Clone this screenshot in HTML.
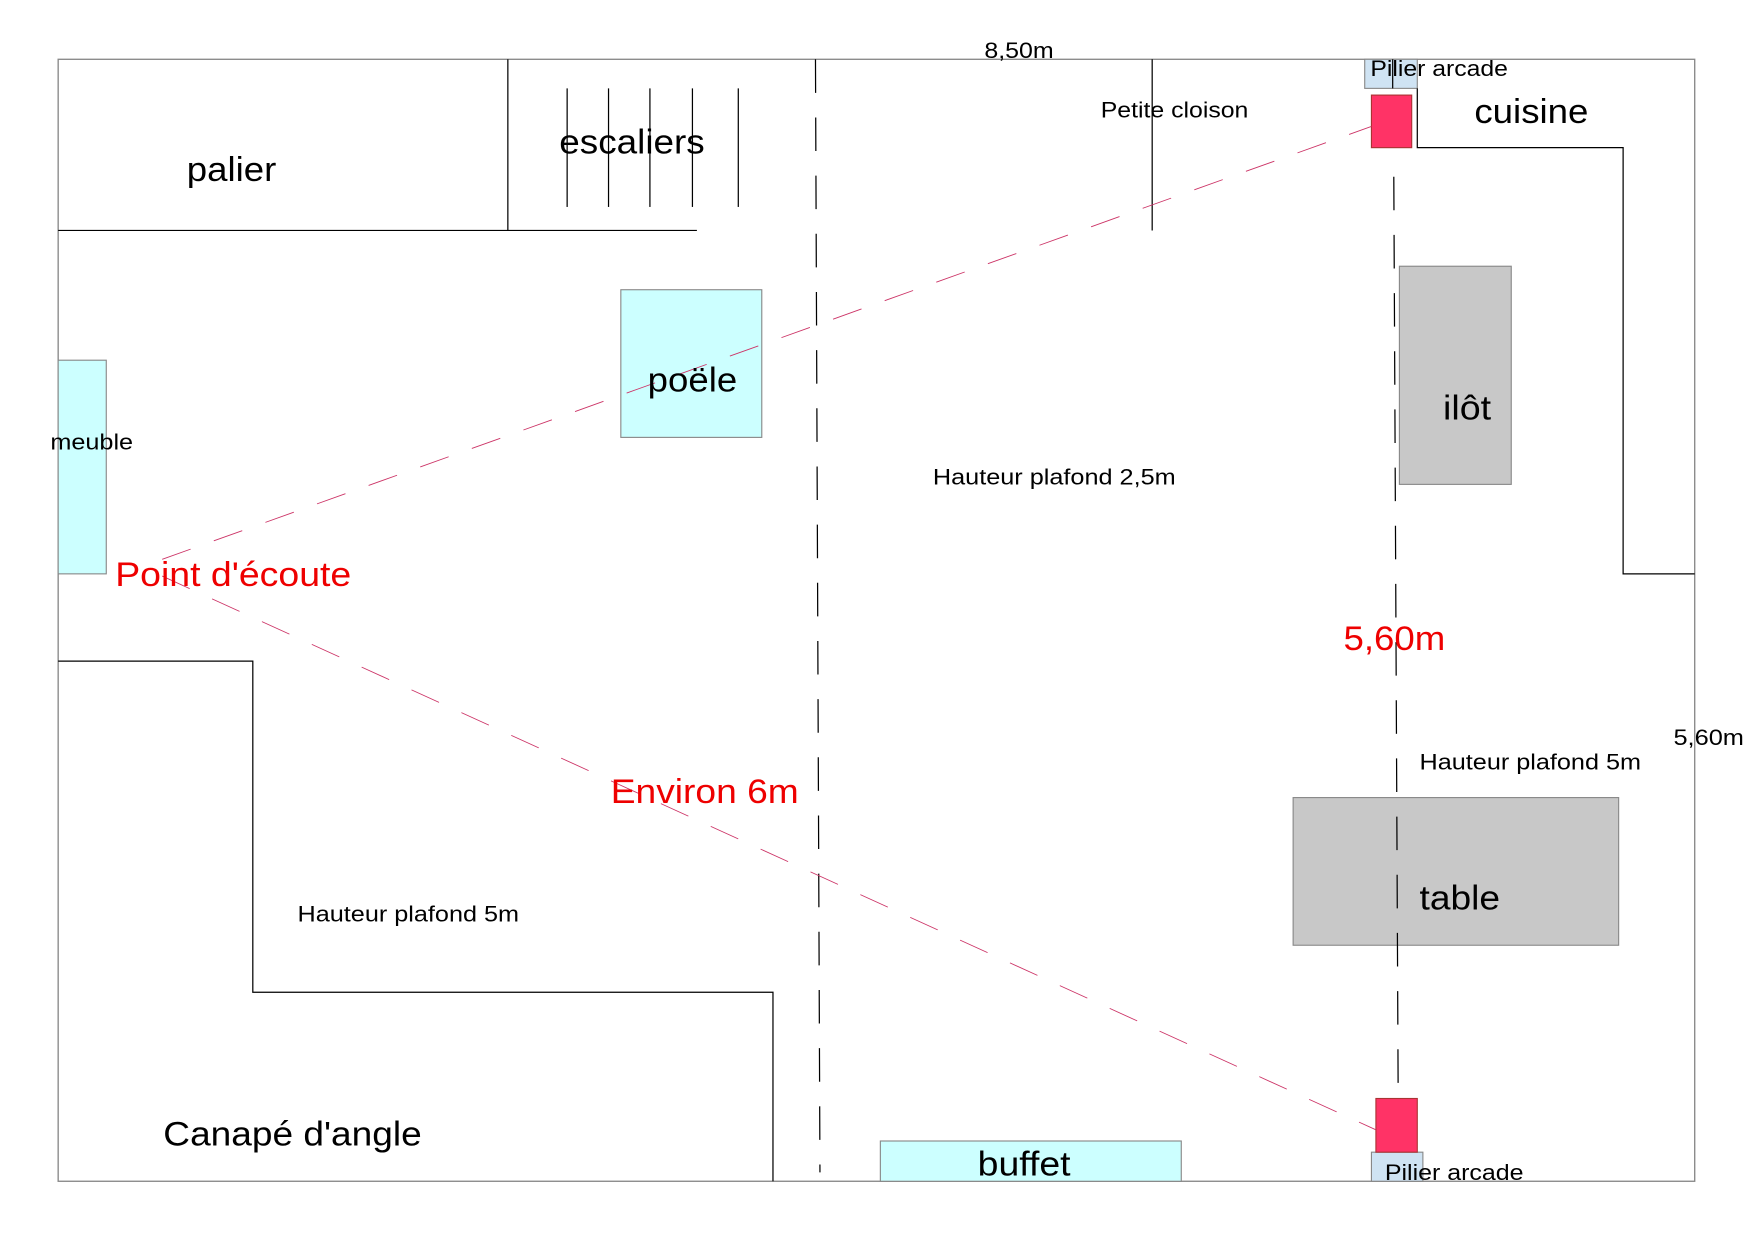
<!DOCTYPE html>
<html><head><meta charset="utf-8"><style>html,body{margin:0;padding:0;background:#fff}svg{display:block}</style></head>
<body>
<svg width="1754" height="1240" viewBox="0 0 1568 1108.5" xmlns="http://www.w3.org/2000/svg" font-family="Liberation Sans, sans-serif">
<rect x="52" y="53" width="1463" height="1003" fill="none" stroke="#888" stroke-width="1.2"/>
<rect x="52" y="322" width="43" height="191" fill="#ccffff" stroke="#888"/>
<rect x="555" y="259" width="126" height="132" fill="#ccffff" stroke="#888"/>
<rect x="787" y="1020" width="269" height="36" fill="#ccffff" stroke="#888"/>
<rect x="1251" y="238" width="100" height="195" fill="#c8c8c8" stroke="#888"/>
<rect x="1156" y="713" width="291" height="132" fill="#c8c8c8" stroke="#888"/>
<rect x="1220" y="53" width="47" height="26" fill="#cfe3f3" stroke="#888"/>
<rect x="1226" y="1030" width="46" height="26" fill="#cfe3f3" stroke="#888"/>
<g stroke="#000" stroke-width="1.1" fill="none">
<line x1="52" y1="206" x2="623" y2="206"/>
<line x1="454" y1="53" x2="454" y2="206"/>
<line x1="507" y1="79" x2="507" y2="185"/>
<line x1="544" y1="79" x2="544" y2="185"/>
<line x1="581" y1="79" x2="581" y2="185"/>
<line x1="619" y1="79" x2="619" y2="185"/>
<line x1="660" y1="79" x2="660" y2="185"/>
<line x1="1030" y1="53" x2="1030" y2="206"/>
<line x1="1245" y1="53" x2="1245" y2="79"/>
<polyline points="1267,79 1267,132 1451,132 1451,513 1515,513"/>
<polyline points="52,591 226,591 226,887 691,887 691,1056"/>
<line x1="729" y1="53" x2="733" y2="1048" stroke-dasharray="30,22"/>
<line x1="1246" y1="158" x2="1250" y2="1000" stroke-dasharray="30,22"/>
</g>
<rect x="1226" y="85" width="36" height="47" fill="#ff3366" stroke="#a33"/>
<rect x="1230" y="982" width="37" height="48" fill="#ff3366" stroke="#a33"/>
<g stroke="#cc3366" stroke-width="0.8" stroke-dasharray="27,22">
<line x1="145" y1="500" x2="1226" y2="113"/>
<line x1="145" y1="515" x2="1230" y2="1010"/>
</g>
<g fill="#000" font-size="20" lengthAdjust="spacingAndGlyphs">
<text x="880" y="52" textLength="62" lengthAdjust="spacingAndGlyphs">8,50m</text>
<text x="984" y="105" textLength="132" lengthAdjust="spacingAndGlyphs">Petite cloison</text>
<text x="1225" y="68" textLength="123" lengthAdjust="spacingAndGlyphs">Pilier arcade</text>
<text x="45" y="402" textLength="74" lengthAdjust="spacingAndGlyphs">meuble</text>
<text x="834" y="433" textLength="217" lengthAdjust="spacingAndGlyphs">Hauteur plafond 2,5m</text>
<text x="1496" y="666" textLength="63" lengthAdjust="spacingAndGlyphs">5,60m</text>
<text x="1269" y="688" textLength="198" lengthAdjust="spacingAndGlyphs">Hauteur plafond 5m</text>
<text x="266" y="824" textLength="198" lengthAdjust="spacingAndGlyphs">Hauteur plafond 5m</text>
<text x="1238" y="1055" textLength="124" lengthAdjust="spacingAndGlyphs">Pilier arcade</text>
</g>
<g fill="#000" font-size="31">
<text x="1318" y="110" textLength="102" lengthAdjust="spacingAndGlyphs">cuisine</text>
<text x="167" y="162" textLength="80" lengthAdjust="spacingAndGlyphs">palier</text>
<text x="500" y="137" textLength="130" lengthAdjust="spacingAndGlyphs">escaliers</text>
<text x="579" y="350" textLength="80" lengthAdjust="spacingAndGlyphs">poële</text>
<text x="1290" y="375" textLength="43" lengthAdjust="spacingAndGlyphs">ilôt</text>
<text x="1269" y="813" textLength="72" lengthAdjust="spacingAndGlyphs">table</text>
<text x="146" y="1024" textLength="231" lengthAdjust="spacingAndGlyphs">Canapé d'angle</text>
<text x="874" y="1051" textLength="83" lengthAdjust="spacingAndGlyphs">buffet</text>
</g>
<g fill="#ee0000" font-size="31">
<text x="103" y="524" textLength="211" lengthAdjust="spacingAndGlyphs">Point d'écoute</text>
<text x="1201" y="581" textLength="91" lengthAdjust="spacingAndGlyphs">5,60m</text>
<text x="546" y="718" textLength="168" lengthAdjust="spacingAndGlyphs">Environ 6m</text>
</g>
</svg>
</body></html>
